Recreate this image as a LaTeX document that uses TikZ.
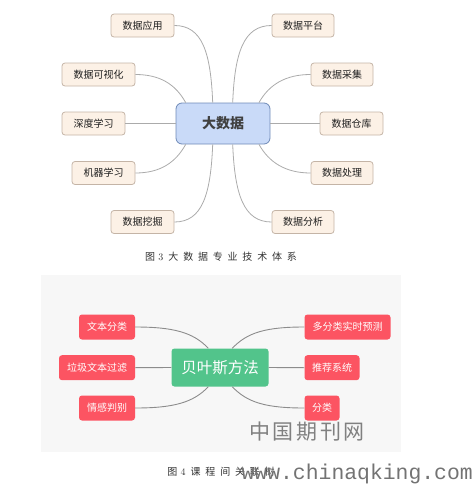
\documentclass[tikz,border=0pt]{standalone}
\usepackage{fontspec}
\newfontfamily\cjk{Noto Sans CJK SC}
\newfontfamily\capcjk[LetterSpace=48]{Noto Sans CJK SC}
\newfontfamily\markcjk[LetterSpace=12]{Noto Sans CJK SC}
\newfontfamily\markmono{Liberation Mono}
\usetikzlibrary{calc}
\usepackage{xcolor}
\definecolor{leafbg}{HTML}{FCF1E6}
\definecolor{leafline}{HTML}{C4B4A6}
\definecolor{bigbg}{HTML}{C9DAF8}
\definecolor{bigline}{HTML}{6F8AB7}
\definecolor{linkgray}{HTML}{ABABAB}
\definecolor{paneltint}{HTML}{F7F7F7}
\definecolor{bayesgreen}{HTML}{52C48B}
\definecolor{tagred}{HTML}{FC5462}

\begin{document}
\begin{tikzpicture}[x=1pt, y=-1pt,
    leaf/.style={draw=leafline, fill=leafbg, rounded corners=3pt, line width=0.8pt,
        minimum height=23pt, inner sep=0pt, text=black!88, font=\cjk\fontsize{10}{12}\selectfont},
    hub/.style={draw=bigline, fill=bigbg, rounded corners=6pt, line width=0.8pt,
        minimum width=94pt, minimum height=41pt, inner sep=0pt, text=black!75,
        font=\cjk\bfseries\fontsize{14}{16}\selectfont},
    tag/.style={fill=tagred, rounded corners=3pt, minimum height=25pt, inner sep=0pt,
        text=white, font=\cjk\fontsize{10}{12}\selectfont},
    link/.style={draw=linkgray, line width=0.8pt},
    link2/.style={draw=black!45, line width=0.9pt}]
    \useasboundingbox (0,0) rectangle (473,490);
    % 图3 大数据
    \node[hub] (big) at (223,123.5) {大数据};
    \node[leaf, minimum width=63pt] (app)  at (142.5,25.5) {数据应用};
    \node[leaf, minimum width=73pt] (vis)  at (98.5,74.5)  {数据可视化};
    \node[leaf, minimum width=63pt] (deep) at (93.5,123.5) {深度学习};
    \node[leaf, minimum width=63pt] (ml)   at (103.5,173)  {机器学习};
    \node[leaf, minimum width=63pt] (mine) at (142.5,222)  {数据挖掘};
    \node[leaf, minimum width=62pt] (plat) at (303,25.5)   {数据平台};
    \node[leaf, minimum width=62pt] (coll) at (342,74.5)   {数据采集};
    \node[leaf, minimum width=63pt] (ware) at (351.5,123.5) {数据仓库};
    \node[leaf, minimum width=62pt] (proc) at (342,173)    {数据处理};
    \node[leaf, minimum width=62pt] (anal) at (303,222)    {数据分析};
    % 连线
    \draw[link] ([xshift=-10.3pt]big.north) .. controls +(-2,-50) and +(28,0) .. (app.east);
    \draw[link] ([xshift=-37.3pt]big.north) .. controls +(-10,-18) and +(25,0) .. (vis.east);
    \draw[link] (big.west) -- (deep.east);
    \draw[link] ([xshift=-37.3pt]big.south) .. controls +(-10,18) and +(25,0) .. (ml.east);
    \draw[link] ([xshift=-10.3pt]big.south) .. controls +(-2,50) and +(28,0) .. (mine.east);
    \draw[link] ([xshift=9.7pt]big.north) .. controls +(2,-50) and +(-28,0) .. (plat.west);
    \draw[link] ([xshift=36pt]big.north) .. controls +(10,-18) and +(-25,0) .. (coll.west);
    \draw[link] (big.east) -- (ware.west);
    \draw[link] ([xshift=36pt]big.south) .. controls +(10,18) and +(-25,0) .. (proc.west);
    \draw[link] ([xshift=9.7pt]big.south) .. controls +(2,50) and +(-28,0) .. (anal.west);
    \node[text=black!80, font=\fontsize{10}{12}\selectfont] (cap3) at (221,257)
        {{\capcjk 图} 3\hspace{5pt}{\capcjk 大数据专业技术体系}};
    % 图4 贝叶斯方法
    \fill[paneltint] (41,275) rectangle (400.7,452);
    \node[fill=bayesgreen, rounded corners=3pt, minimum width=97pt, minimum height=38pt,
        inner sep=0pt, text=white, font=\cjk\fontsize{15.5}{17}\selectfont] (bayes) at (220,367.5) {贝叶斯方法};
    \node[tag, minimum width=56pt] (txt)  at (107,327)   {文本分类};
    \node[tag, minimum width=76pt] (spam) at (97,367.7)  {垃圾文本过滤};
    \node[tag, minimum width=56pt] (emo)  at (107,408)   {情感判别};
    \node[tag, minimum width=86pt] (pred) at (347.5,327) {多分类实时预测};
    \node[tag, minimum width=55pt] (rec)  at (332,367.7) {推荐系统};
    \node[tag, minimum width=35pt] (cls)  at (322,408)   {分类};
    \draw[link2] ([xshift=-11.7pt]bayes.north) .. controls +(-15,-16) and +(38,0) .. (txt.east);
    \draw[link2] (bayes.west) -- (spam.east);
    \draw[link2] ([xshift=-11.7pt]bayes.south) .. controls +(-15,16) and +(38,0) .. (emo.east);
    \draw[link2] ([xshift=12.3pt]bayes.north) .. controls +(15,-16) and +(-38,0) .. (pred.west);
    \draw[link2] (bayes.east) -- (rec.west);
    \draw[link2] ([xshift=12.3pt]bayes.south) .. controls +(15,16) and +(-38,0) .. (cls.west);
    \node[text=black!80, font=\fontsize{10}{12}\selectfont] (cap4) at (221,472)
        {{\capcjk 图} 4\hspace{5pt}{\capcjk 课程间关联树}};
    % 水印
    \node[text=black!50, font=\markcjk\fontsize{21}{23}\selectfont] (mark) at (307,432) {中国期刊网};
    \node[text=black!55, font=\markmono\fontsize{21.4}{23}\selectfont, inner sep=0pt] (site) at (357.2,474) {www.chinaqking.com};
\end{tikzpicture}
\end{document}
